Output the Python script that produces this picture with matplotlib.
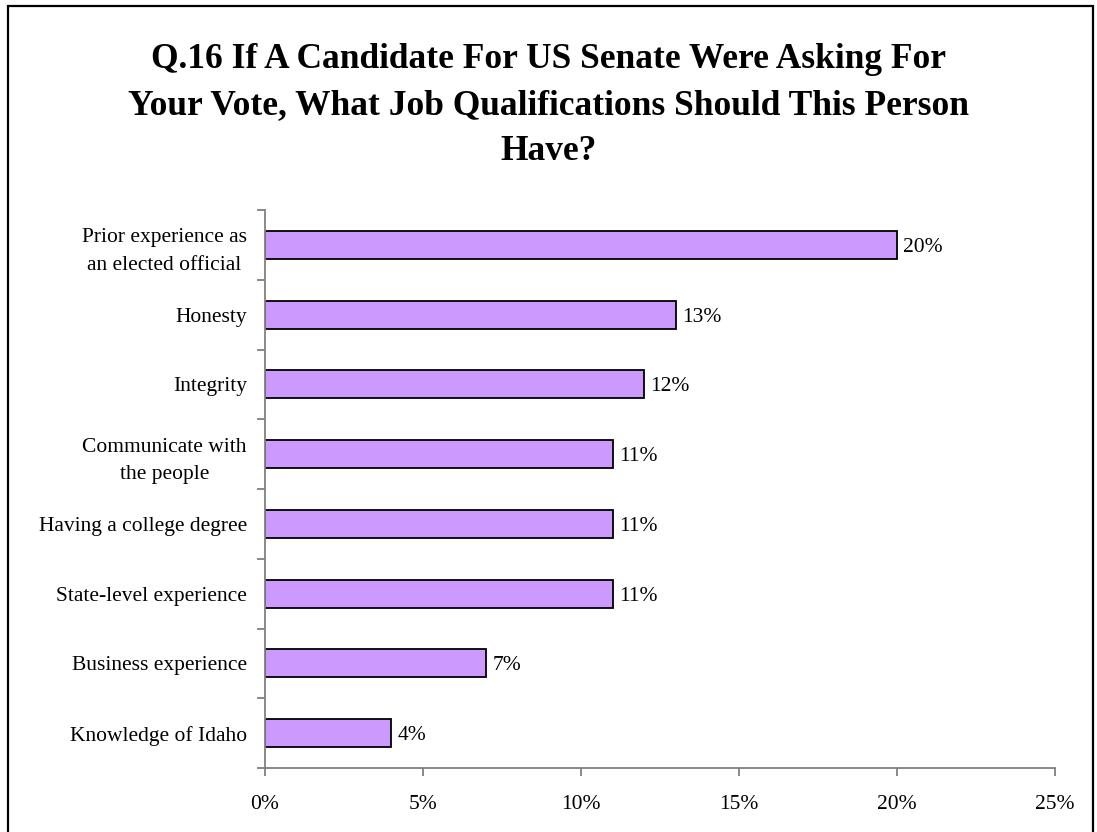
import matplotlib
matplotlib.use("Agg")
import matplotlib.pyplot as plt
from matplotlib.patches import Rectangle
from matplotlib.ticker import FixedLocator, PercentFormatter

categories = [
    "Prior experience as\nan elected official",
    "Honesty",
    "Integrity",
    "Communicate with\nthe people",
    "Having a college degree",
    "State-level experience",
    "Business experience",
    "Knowledge of Idaho",
]
values = [20, 13, 12, 11, 11, 11, 7, 4]
value_labels = ["20%", "13%", "12%", "11%", "11%", "11%", "7%", "4%"]
x_ticks = [0, 5, 10, 15, 20, 25]

title = ("Q.16 If A Candidate For US Senate Were Asking For\n"
         "Your Vote, What Job Qualifications Should This Person\n"
         "Have?")

plt.rcParams["font.family"] = ["Liberation Serif", "DejaVu Serif"]

fig = plt.figure(figsize=(10.97, 8.32), dpi=100)
ax = fig.add_axes([0.2416, 0.0769, 0.7201, 0.6707])

# outer chart frame (bottom edge falls off the canvas)
fig.patches.append(Rectangle((8 / 1097, -0.05), (1093 - 8) / 1097, 1.05 - 6 / 832,
                             transform=fig.transFigure, fill=False,
                             edgecolor="black", linewidth=1.6))

pos = list(range(len(categories)))
ax.barh(pos, values, height=0.4, color="#CC99FF", edgecolor="black", linewidth=1.3)
for p, v, lab in zip(pos, values, value_labels):
    ax.text(v + 0.2, p, lab, va="center_baseline", ha="left", fontsize=15.5)

ax.set_xlim(0, 25)
ax.set_ylim(len(categories) - 0.5, -0.5)
ax.set_xticks(x_ticks)
ax.xaxis.set_major_formatter(PercentFormatter(decimals=0))
ax.set_yticks(pos)
ax.set_yticklabels(categories, fontsize=15.5, linespacing=1.6, multialignment="center")
ax.yaxis.set_minor_locator(FixedLocator([i - 0.5 for i in range(len(categories) + 1)]))

for s in ("top", "right"):
    ax.spines[s].set_visible(False)
for s in ("left", "bottom"):
    ax.spines[s].set_color("#808080")
    ax.spines[s].set_linewidth(1.3)

ax.tick_params(axis="y", which="major", length=0, pad=13)
ax.tick_params(axis="y", which="minor", length=5.5, width=1.3, color="#808080", direction="out")
ax.tick_params(axis="x", which="major", length=5.5, width=1.3, color="#808080",
               labelsize=15.5, pad=14)

fig.text(0.5, 1 - 43 / 832, title, ha="center", va="top", fontsize=25.5,
         fontweight="bold", linespacing=1.52)

fig.savefig("out.png", dpi=100)
